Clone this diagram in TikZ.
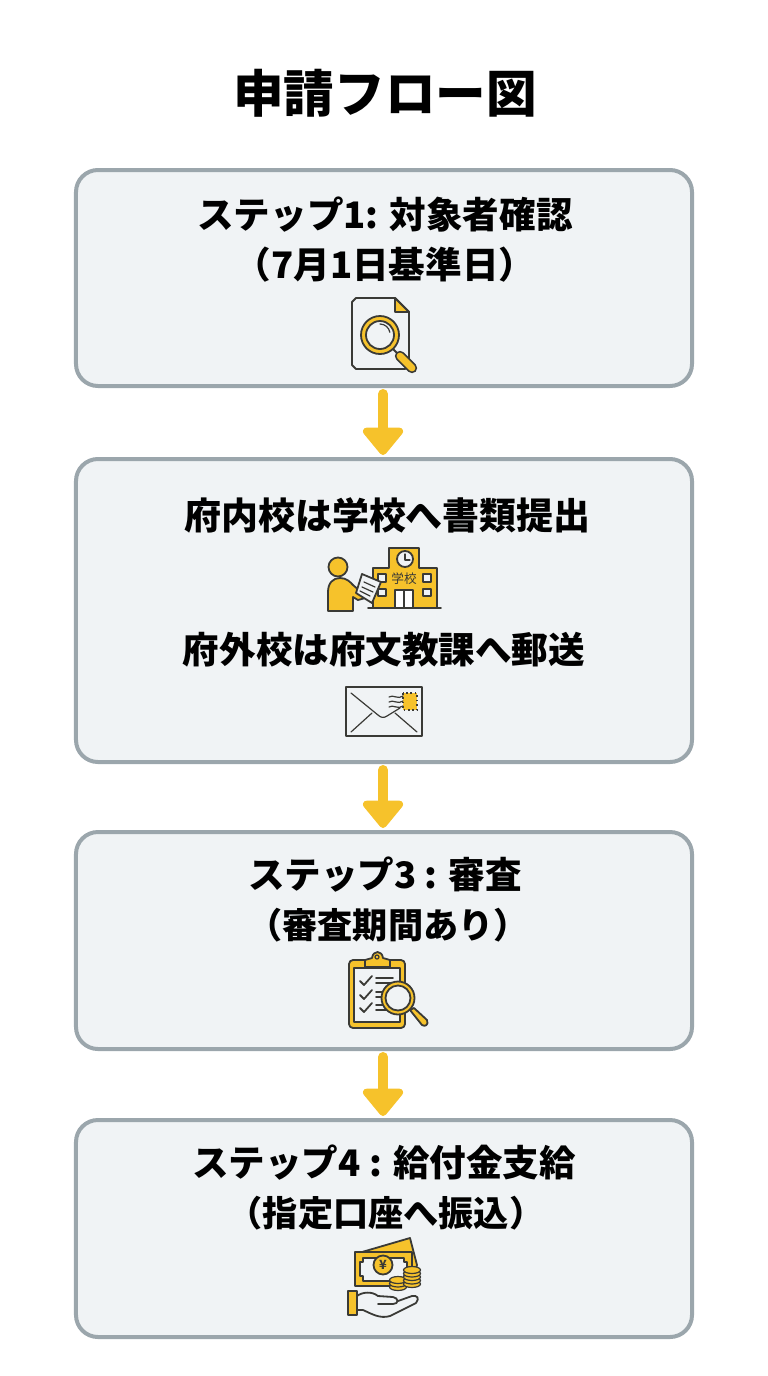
\documentclass[tikz,border=0pt]{standalone}
\usepackage{fontspec}
\setmainfont{Noto Sans CJK JP}
\usetikzlibrary{arrows.meta}
\tikzstyle{stepbox} = [rectangle, draw=bgray, fill=bpale, line width=1mm, rounded corners=5.5mm, minimum width=154mm, inner sep=0pt]
\tikzstyle{arrow} = [draw=byellow, line width=2.5mm, line cap=round, -{Triangle[round, length=7.4mm, width=11.6mm]}, shorten <=1.5mm, shorten >=0.5mm]
\tikzstyle{steptext} = [font=\bfseries\fontsize{26}{30}\selectfont, inner sep=0pt]
\tikzstyle{subtext} = [font=\bfseries\fontsize{25}{30}\selectfont, inner sep=0pt]
\tikzstyle{titletext} = [font=\bfseries\fontsize{36}{40}\selectfont, inner sep=0pt]
\tikzstyle{ink} = [draw=bink, line width=0.45mm, line join=round, line cap=round]
\tikzstyle{inkthin} = [draw=bink, line width=0.3mm, line join=round, line cap=round]
\definecolor{bgray}{HTML}{9BA6AC}
\definecolor{bpale}{HTML}{F0F3F5}
\definecolor{byellow}{HTML}{F6C22B}
\definecolor{bink}{HTML}{3A3A36}
\begin{document}
\begin{tikzpicture}[x=0.25mm, y=-0.25mm]
\useasboundingbox (0, 0) rectangle (768, 1376);

\node[titletext] at (385, 93) (title) {申請フロー図};

%% boxes
\node[stepbox, minimum height=54mm] at (384, 278) (step1) {};
\node[stepbox, minimum height=75.75mm] at (384, 610.5) (step2) {};
\node[stepbox, minimum height=54.25mm] at (384, 940.5) (step3) {};
\node[stepbox, minimum height=54.25mm] at (384, 1228.5) (step4) {};

%% arrows
\path[arrow] ([xshift=-0.7]step1.south) -- ([xshift=-0.7]step2.north);
\path[arrow] ([xshift=-0.7]step2.south) -- ([xshift=-0.7]step3.north);
\path[arrow] ([xshift=-0.7]step3.south) -- ([xshift=-0.7]step4.north);

%% step 1
\node[steptext] at (385, 215) (step1a) {ステップ1: 対象者確認};
\node[steptext] at (385, 265) (step1b) {（7月1日基準日）};
\draw[ink, fill=bpale] (356, 298) -- (395, 298) -- (409, 312) -- (409, 365) -- ++(-4, 4) -- (356, 369) -- ++(-4, -4) -- (352, 302) -- cycle;
\draw[ink, fill=byellow] (395, 298) -- (409, 312) -- (395, 312) -- cycle;
\draw[bink, line width=0.45mm] (393, 349) -- (400, 356);
\draw[bink, line width=2.6mm, line cap=round] (400, 356) -- (412, 368);
\draw[byellow, line width=1.7mm, line cap=round] (400, 356) -- (412, 368);
\draw[ink, fill=byellow] (380, 335) circle (19);
\draw[ink, fill=bpale] (380, 335) circle (14);
\draw[inkthin] (380, 324) arc (-90:-10:10);

%% step 2
\node[steptext, font=\bfseries\fontsize{26.3}{30}\selectfont] at (387.5, 515) (step2a) {府内校は学校へ書類提出};
\node[steptext] at (384, 650) (step2b) {府外校は府文教課へ郵送};
% school
\draw[ink, fill=byellow] (373, 568) -- (389, 568) -- (389, 548) -- (419, 548) -- (419, 568) -- (437, 568) -- (437, 608) -- (373, 608) -- cycle;
\draw[ink, fill=bpale] (405, 559) circle (8);
\draw[inkthin] (405, 554) -- (405, 560) -- (410, 560);
\node[font=\fontsize{9}{9}\selectfont, inner sep=0pt, text=bink] at (404, 579) (schoolname) {学校};
\draw[ink, fill=white] (395, 590) rectangle (413, 608);
\draw[inkthin] (404, 590) -- (404, 608);
\draw[inkthin, fill=bpale] (423, 574) rectangle (431, 582);
\draw[inkthin, fill=bpale] (423, 589) rectangle (431, 596);
\draw[inkthin, fill=bpale] (378, 574) rectangle (386, 582);
\draw[inkthin, fill=bpale] (378, 589) rectangle (386, 596);
\draw[ink] (368, 608) -- (441, 608);
% person
\draw[ink, fill=byellow] (338, 567) circle (9.5);
\draw[ink, fill=byellow] (328, 611) -- (328, 592) .. controls (328, 583) and (333, 578) .. (340, 578) .. controls (347, 578) and (350, 582) .. (353, 585) -- (361, 592) -- (368, 590) -- (369, 597) -- (358, 600) -- (353, 597) -- (353, 611) -- cycle;
\draw[ink, fill=bpale] (362, 574) -- (381, 582) -- (372, 603) -- (356, 593) -- cycle;
\draw[inkthin] (364, 582) -- (375, 587) (362, 587) -- (373, 592) (360, 591) -- (370, 596);
% envelope
\draw[ink, fill=bpale] (346, 687) rectangle (422, 736);
\draw[inkthin] (351, 693) -- (378, 715) .. controls (381, 718) and (384, 718) .. (387, 716) -- (400, 708);
\draw[inkthin] (351, 732) -- (372, 713) (395, 713) -- (417, 732);
\draw[draw=bink, line width=0.4mm, dotted, fill=byellow] (403, 693) rectangle (417, 710);
\draw[inkthin] (389, 697) .. controls (393, 694) and (398, 700) .. (403, 696);
\draw[inkthin] (389, 702) .. controls (393, 699) and (398, 705) .. (403, 701);
\draw[inkthin] (389, 707) .. controls (393, 704) and (398, 710) .. (403, 706);

%% step 3
\node[steptext] at (385, 875) (step3a) {ステップ3 : 審査};
\node[subtext] at (388, 925) (step3b) {（審査期間あり）};
\draw[ink, fill=byellow, rounded corners=1mm] (349, 960) rectangle (405, 1028);
\draw[inkthin, fill=bpale] (354, 968) rectangle (400, 1022);
\draw[ink, fill=byellow] (365, 967) -- (365, 960) -- (372, 958) .. controls (373, 950) and (382, 950) .. (383, 958) -- (390, 960) -- (390, 967) -- cycle;
\draw[inkthin] (377, 957) circle (2);
\draw[ink] (360, 981) -- (364, 985) -- (372, 976) (360, 995) -- (364, 999) -- (372, 990) (360, 1008) -- (364, 1012) -- (372, 1003);
\draw[ink] (376, 978) -- (393, 978) (376, 983) -- (393, 983) (376, 992) -- (385, 992) (376, 997) -- (385, 997) (376, 1005) -- (385, 1005) (376, 1010) -- (387, 1010);
\draw[ink, fill=byellow] (410, 1010) -- (414, 1008) -- (427, 1020) .. controls (429, 1025) and (425, 1027) .. (422, 1025) -- cycle;
\draw[ink, fill=byellow] (398, 998) circle (16.5);
\draw[ink, fill=bpale] (398, 998) circle (12.5);

%% step 4
\node[steptext] at (384, 1163) (step4a) {ステップ4 : 給付金支給};
\node[subtext] at (386, 1213) (step4b) {（指定口座へ振込）};
% bills
\draw[ink, fill=byellow] (362, 1252) -- (410, 1238) -- (417, 1265) -- (412, 1285) -- (380, 1263) -- cycle;
\draw[ink, fill=byellow] (355, 1252) rectangle (412, 1286);
\draw[inkthin, fill=bpale] (363, 1258) -- (404, 1258) -- (404, 1262) -- (407, 1262) -- (407, 1276) -- (404, 1276) -- (404, 1281) -- (363, 1281) -- (363, 1276) -- (360, 1276) -- (360, 1262) -- (363, 1262) -- cycle;
\draw[ink, fill=byellow] (383, 1265) circle (9.5);
\node[font=\bfseries\fontsize{9}{9}\selectfont, inner sep=0pt, text=bink] at (383, 1265) (billsign) {¥};
% coins
\foreach \cy in {1287, 1283.5, 1280} {
  \draw[inkthin, fill=byellow] (398, \cy) ellipse (8.5 and 3.5);
}
\foreach \cy in {1284, 1280.5, 1277, 1273.5, 1270} {
  \draw[inkthin, fill=byellow] (412, \cy) ellipse (8.5 and 3.5);
}
% hand
\draw[ink, fill=byellow] (348, 1291) rectangle (357, 1315);
\draw[ink] (357, 1296) .. controls (362, 1292) and (372, 1291) .. (378, 1296) -- (393, 1297) .. controls (399, 1298) and (399, 1304) .. (393, 1304) -- (378, 1304);
\draw[ink] (357, 1310) -- (363, 1310) .. controls (372, 1314) and (380, 1319) .. (390, 1316) -- (416, 1303) .. controls (420, 1298) and (417, 1295) .. (412, 1296) -- (398, 1301);
\end{tikzpicture}
\end{document}
